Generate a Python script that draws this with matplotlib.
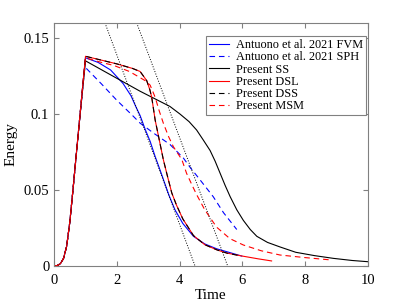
import numpy as np
import matplotlib
matplotlib.use("Agg")
import matplotlib.pyplot as plt

plt.rcParams["font.family"] = ["Liberation Serif", "DejaVu Serif"]

# shared start-up phase (all runs overlap up to the peak)
rise_t = [0.0, 0.1, 0.2, 0.3, 0.4, 0.5, 0.6, 0.7, 0.8, 0.9]
rise_e = [0.0, 0.0003, 0.0015, 0.005, 0.013, 0.029, 0.050, 0.072, 0.094, 0.116]

fvm_t = [1.0, 1.4, 1.8, 2.2, 2.45, 2.6, 2.74, 2.9, 3.06, 3.22, 3.43, 3.65, 3.85, 4.1, 4.44,
         4.8, 5.18, 5.6, 5.98]
fvm_e = [0.137, 0.134, 0.129, 0.120, 0.112, 0.105, 0.099, 0.090, 0.082, 0.072, 0.060, 0.047,
         0.037, 0.028, 0.0195, 0.0145, 0.0113, 0.0088, 0.0065]

sph_t = [0.98, 1.5, 2.0, 2.5, 2.74, 3.2, 3.69, 4.12, 4.33, 4.6, 5.07, 5.4, 5.82]
sph_e = [0.131, 0.120, 0.109, 0.099, 0.094, 0.087, 0.080, 0.071, 0.065, 0.058, 0.0456, 0.035, 0.024]

ss_t = [1.0, 2.0, 2.74, 3.69, 4.01, 4.3, 4.54, 4.75, 4.97, 5.13, 5.29, 5.45, 5.61, 5.82, 6.03,
        6.25, 6.46, 6.8, 7.2, 7.7, 8.3, 8.9, 9.5, 10.0]
ss_e = [0.135, 0.1235, 0.115, 0.105, 0.100, 0.095, 0.0895, 0.083, 0.076, 0.069, 0.061, 0.053,
        0.0456, 0.037, 0.030, 0.024, 0.0195, 0.0155, 0.0125, 0.009, 0.0068, 0.005, 0.0036, 0.0028]

dsl_t = [1.0, 1.5, 2.0, 2.5, 2.74, 2.95, 3.05, 3.11, 3.22, 3.35, 3.48, 3.6, 3.75, 3.9, 4.1,
         4.44, 4.8, 5.2, 5.5, 6.0, 6.5, 6.93]
dsl_e = [0.138, 0.1355, 0.133, 0.130, 0.128, 0.122, 0.116, 0.111, 0.096, 0.083, 0.070, 0.060,
         0.048, 0.040, 0.031, 0.020, 0.014, 0.0105, 0.0085, 0.0065, 0.0047, 0.0033]

dss_t = [1.0, 1.5, 2.0, 2.5, 2.74, 2.95, 3.05, 3.11, 3.22, 3.35, 3.48, 3.6, 3.75, 3.9, 4.1,
         4.44, 4.8, 5.2, 5.5, 5.9]
dss_e = [0.138, 0.1355, 0.133, 0.130, 0.128, 0.122, 0.116, 0.111, 0.096, 0.083, 0.070, 0.060,
         0.048, 0.040, 0.031, 0.020, 0.014, 0.0105, 0.0085, 0.0068]

msm_t = [1.0, 1.5, 1.9, 2.4, 2.9, 3.06, 3.22, 3.35, 3.48, 3.65, 3.8, 4.07, 4.22, 4.4, 4.54,
         4.8, 5.18, 5.6, 6.03, 6.6, 7.2, 8.0, 8.8]
msm_e = [0.137, 0.134, 0.132, 0.128, 0.122, 0.119, 0.111, 0.102, 0.094, 0.085, 0.0785, 0.070,
         0.061, 0.053, 0.047, 0.037, 0.0255, 0.018, 0.0138, 0.010, 0.0072, 0.0055, 0.004]

# reference slopes (dotted)
ref1_t = [1.62, 4.49]
ref2_t = [2.63, 5.53]
ref_e = [0.16, 0.0]

fig = plt.figure(figsize=(4.07, 3.05), dpi=100)
ax = fig.add_axes([0.133, 0.128, 0.771, 0.797])

def full(t, e, skip_last=False):
    rt = rise_t[:-1] if skip_last else rise_t
    re_ = rise_e[:-1] if skip_last else rise_e
    return rt + t, re_ + e

lw = 0.8
dash = (5, 3.5)
ax.plot(*full(fvm_t, fvm_e), color="b", lw=lw, label="Antuono et al. 2021 FVM")
ax.plot(*full(sph_t, sph_e, True), color="b", ls="--", dashes=dash, lw=lw,
        label="Antuono et al. 2021 SPH")
ax.plot(*full(ss_t, ss_e, True), color="k", lw=lw, label="Present SS")
ax.plot(*full(dsl_t, dsl_e), color="r", lw=lw, label="Present DSL")
ax.plot(*full(dss_t, dss_e), color="k", ls="--", dashes=dash, lw=lw, label="Present DSS")
ax.plot(*full(msm_t, msm_e), color="r", ls="--", dashes=dash, lw=lw, label="Present MSM")
ax.plot(ref1_t, ref_e, color="k", ls=":", lw=0.7)
ax.plot(ref2_t, ref_e, color="k", ls=":", lw=0.7)

ax.set_xlim(0, 10)
ax.set_ylim(0, 0.16)
ax.set_xticks([0, 2, 4, 6, 8, 10])
ax.set_yticks([0, 0.05, 0.1, 0.15])
ax.set_yticklabels(["0", "0.05", "0.1", "0.15"])
ax.tick_params(direction="in", top=True, right=True, length=3.5, labelsize=10.5,
               color="#808080")
ax.tick_params(axis="x", pad=6)
for s in ax.spines.values():
    s.set_color("#808080")
    s.set_linewidth(0.8)
ax.set_xlabel("Time", fontsize=11, labelpad=1)
ax.set_ylabel("Energy", fontsize=11, labelpad=4)

leg = ax.legend(loc="upper right", bbox_to_anchor=(0.993, 0.946), fontsize=8.8,
                frameon=True, fancybox=False, edgecolor="#808080", framealpha=1,
                handlelength=1.7, handletextpad=0.5, labelspacing=0.02,
                borderpad=0.25, borderaxespad=0)
leg.get_frame().set_linewidth(0.8)

fig.savefig("out.png", dpi=100)
